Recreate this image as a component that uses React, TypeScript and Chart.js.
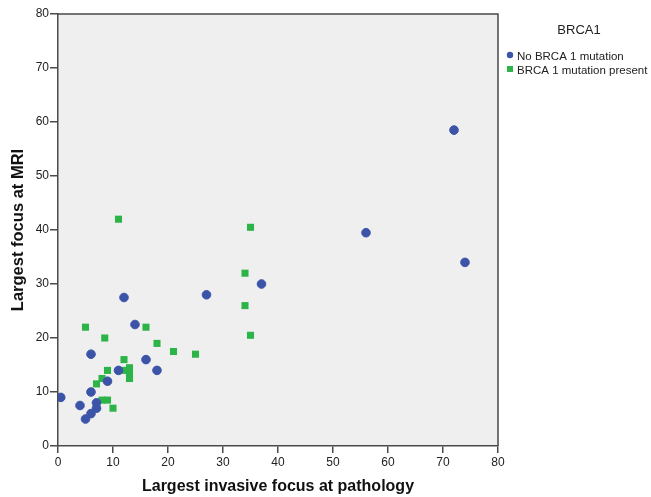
import { useEffect, useRef } from "react";
import { Chart, registerables } from "chart.js";

Chart.register(...registerables);

// No BRCA 1 mutation
const noMutX = [0.5, 4, 5, 6, 7, 7, 6, 9, 11, 6, 16, 18, 14, 12, 27, 37, 56, 74, 72];
const noMutY = [9, 7.5, 5, 6, 7, 8, 10, 12, 14, 17, 16, 14, 22.5, 27.5, 28, 30, 39.5, 34, 58.5];

// BRCA 1 mutation present
const mutX = [5, 16, 8.5, 18, 21, 25, 12, 13, 12, 13, 13, 9, 8, 7, 8, 9, 10, 11, 35, 34, 34, 35];
const mutY = [22, 22, 20, 19, 17.5, 17, 16, 14.5, 14, 13.5, 12.5, 14, 12.5, 11.5, 8.5, 8.5, 7, 42, 40.5, 32, 26, 20.5];

const xTicks = [0, 10, 20, 30, 40, 50, 60, 70, 80];
const yTicks = [0, 10, 20, 30, 40, 50, 60, 70, 80];

const seriesNames = ["No BRCA 1 mutation", "BRCA 1 mutation present"];
const legendTitle = "BRCA1";
const xTitle = "Largest invasive focus at pathology";
const yTitle = "Largest focus at MRI";

const BLUE = "rgb(59,84,168)";
const GREEN = "rgb(44,180,72)";
const AXIS = "#4a4a4a";
const FONT = "'Liberation Sans', Arial, sans-serif";

export default function App() {
  const ref = useRef<HTMLCanvasElement | null>(null);

  useEffect(() => {
    if (!ref.current) return;

    const bgPlugin = {
      id: "plotBg",
      beforeDraw(chart: any) {
        const { ctx, chartArea } = chart;
        ctx.save();
        ctx.fillStyle = "#ffffff";
        ctx.fillRect(0, 0, chart.width, chart.height);
        ctx.fillStyle = "#efefef";
        ctx.fillRect(chartArea.left, chartArea.top, chartArea.right - chartArea.left, chartArea.bottom - chartArea.top);
        ctx.restore();
      },
      afterDraw(chart: any) {
        const { ctx, chartArea } = chart;
        ctx.save();
        ctx.strokeStyle = AXIS;
        ctx.lineWidth = 1.5;
        ctx.beginPath();
        ctx.moveTo(chartArea.left, chartArea.top);
        ctx.lineTo(chartArea.right, chartArea.top);
        ctx.lineTo(chartArea.right, chartArea.bottom);
        ctx.stroke();

        // legend
        const lx = chartArea.right + 12;
        ctx.fillStyle = "#222";
        ctx.font = `13px ${FONT}`;
        ctx.textAlign = "center";
        ctx.textBaseline = "middle";
        ctx.fillText(legendTitle, 579, 30);
        ctx.font = `11.5px ${FONT}`;
        ctx.textAlign = "left";
        ctx.fillStyle = BLUE;
        ctx.beginPath();
        ctx.arc(lx, 55, 3.2, 0, Math.PI * 2);
        ctx.fill();
        ctx.fillStyle = GREEN;
        ctx.fillRect(lx - 3, 66, 6, 6);
        ctx.fillStyle = "#222";
        ctx.fillText(seriesNames[0], lx + 7, 57);
        ctx.fillText(seriesNames[1], lx + 7, 71);
        ctx.restore();
      },
    };

    const chart = new Chart(ref.current, {
      type: "scatter",
      data: {
        datasets: [
          {
            label: seriesNames[0],
            data: noMutX.map((x, i) => ({ x, y: noMutY[i] })),
            backgroundColor: BLUE,
            borderColor: BLUE,
            borderWidth: 1,
            pointStyle: "circle",
            pointRadius: 4.3,
          },
          {
            label: seriesNames[1],
            data: mutX.map((x, i) => ({ x, y: mutY[i] })),
            backgroundColor: GREEN,
            borderColor: GREEN,
            borderWidth: 0,
            pointStyle: "rect",
            pointRadius: 5,
          },
        ],
      },
      options: {
        animation: false,
        responsive: false,
        devicePixelRatio: 1,
        layout: { padding: { top: 14, right: 153, left: 0, bottom: 0 } },
        plugins: {
          legend: { display: false },
          tooltip: { enabled: false },
        },
        scales: {
          x: {
            type: "linear",
            min: 0,
            max: 80,
            afterBuildTicks(scale: any) {
              scale.ticks = xTicks.map((v) => ({ value: v }));
            },
            afterFit(scale: any) {
              scale.height = 51;
            },
            grid: { drawOnChartArea: false, drawTicks: true, tickLength: 7, color: AXIS, lineWidth: 1.5 },
            border: { display: true, color: AXIS, width: 1.5 },
            ticks: { color: "#222", font: { size: 12, family: FONT }, padding: 2, maxRotation: 0 },
            title: {
              display: true,
              text: xTitle,
              color: "#111",
              font: { size: 16, weight: "bold", family: FONT },
              padding: 1,
            },
          },
          y: {
            type: "linear",
            min: 0,
            max: 80,
            afterBuildTicks(scale: any) {
              scale.ticks = yTicks.map((v) => ({ value: v }));
            },
            afterFit(scale: any) {
              scale.width = 58;
            },
            grid: { drawOnChartArea: false, drawTicks: true, tickLength: 8, color: AXIS, lineWidth: 1.5 },
            border: { display: true, color: AXIS, width: 1.5 },
            ticks: { color: "#222", font: { size: 12, family: FONT }, padding: 1 },
            title: {
              display: true,
              text: yTitle,
              color: "#111",
              font: { size: 16.5, weight: "bold", family: FONT },
              padding: 9,
            },
          },
        },
      },
      plugins: [bgPlugin],
    } as any);

    return () => chart.destroy();
  }, []);

  return (
    <div style={{ position: "absolute", left: 0, top: 0, width: 651, height: 497 }}>
      <canvas ref={ref} width={651} height={497} style={{ display: "block" }} />
    </div>
  );
}
